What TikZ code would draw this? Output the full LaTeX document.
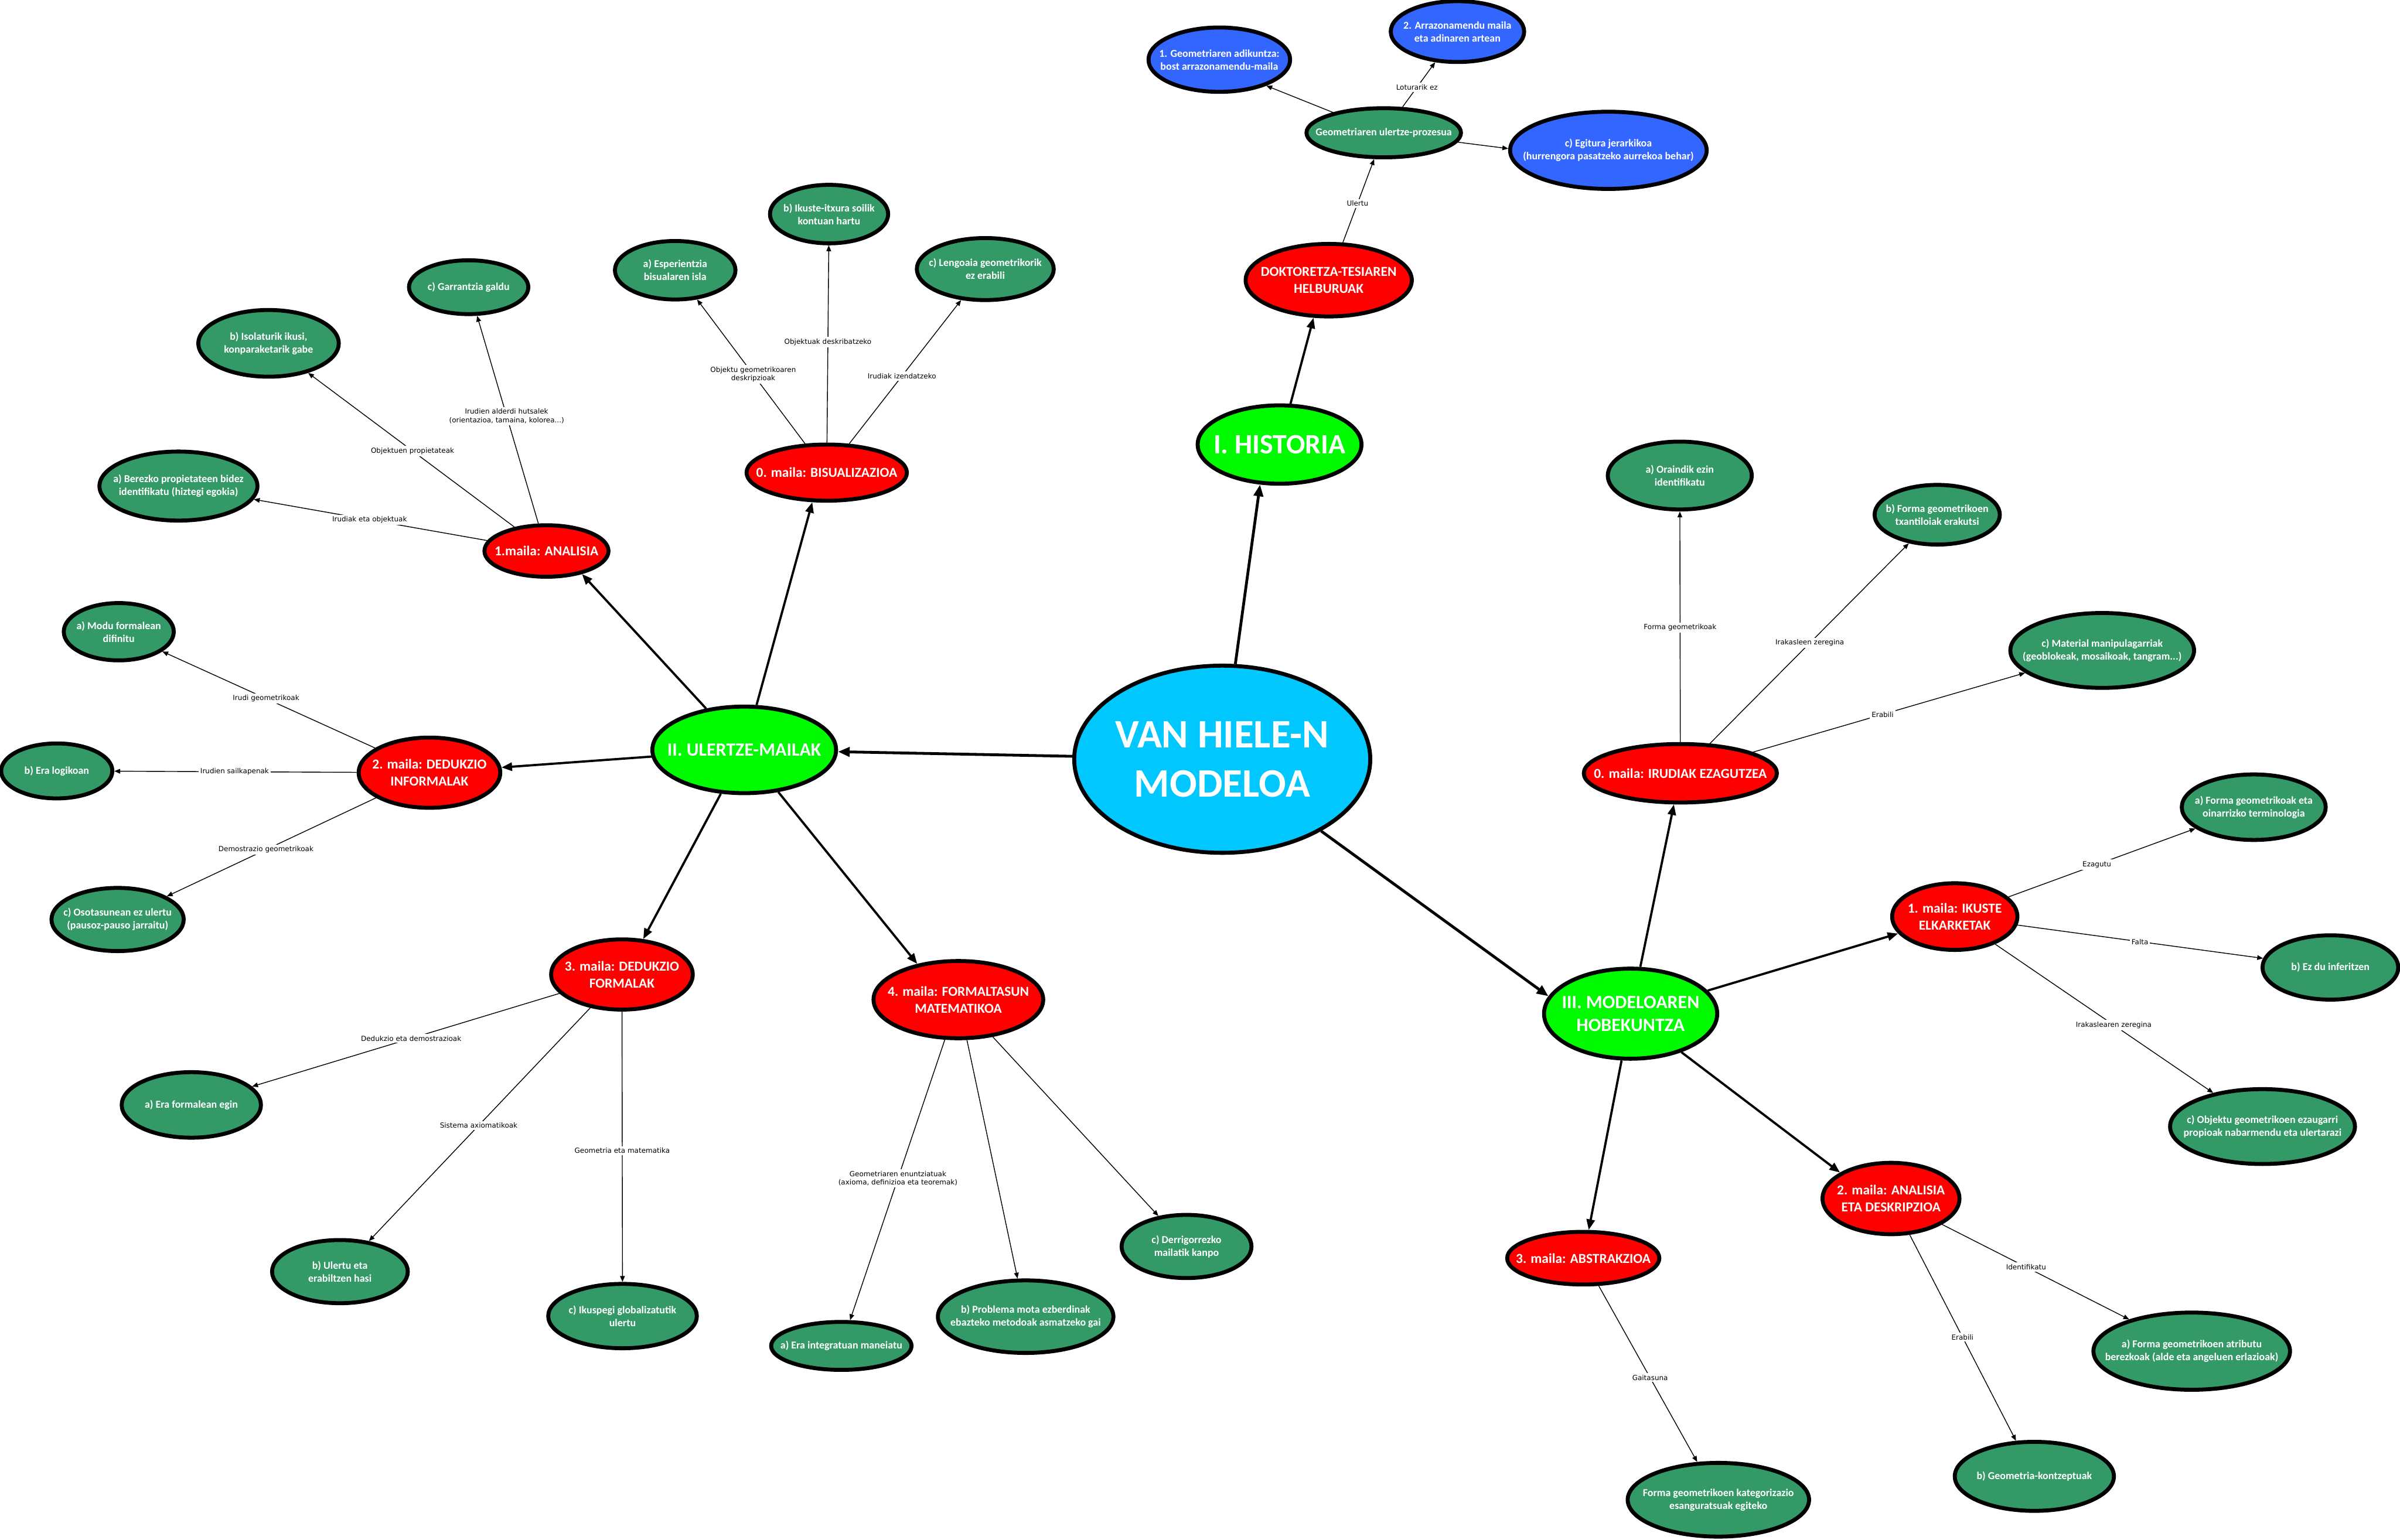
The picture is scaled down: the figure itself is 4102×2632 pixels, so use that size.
\documentclass[tikz,border=0pt]{standalone}
\usepackage{fontspec}
\setmainfont{Carlito}[BoldFont={Carlito Bold}]
\newfontfamily\lblfont{DejaVu Sans}
\usetikzlibrary{shapes.geometric,arrows.meta,calc}
\definecolor{subgreen}{RGB}{51,153,102}
\definecolor{lvlred}{RGB}{255,0,0}
\definecolor{secgreen}{RGB}{0,250,0}
\definecolor{topblue}{RGB}{51,102,255}
\definecolor{maincyan}{RGB}{0,200,255}
\newcommand\zb[1]{\makebox[0pt]{#1}}
\begin{document}
\begin{tikzpicture}[x=0.5pt,y=-0.5pt,
  base/.style={ellipse, draw=black, line width=3.4pt, inner sep=0pt, text=white, align=center},
  sub/.style={base, fill=subgreen, font=\bfseries\fontsize{9}{11}\selectfont},
  blu/.style={base, fill=topblue, font=\bfseries\fontsize{9}{11}\selectfont},
  lvl/.style={base, fill=lvlred, font=\bfseries\fontsize{11.75}{14.5}\selectfont},
  sec/.style={base, fill=secgreen, font=\bfseries\fontsize{16}{19.5}\selectfont},
  sz/.style 2 args={minimum width=#1pt, minimum height=#2pt},
  thinarr/.style={-{Triangle[length=5pt,width=4pt]}, line width=0.7pt},
  midarr/.style={-{Triangle[length=9pt,width=7pt]}, line width=1.9pt},
  bigarr/.style={-{Triangle[length=10pt,width=8pt]}, line width=2.4pt},
  lbl/.style={fill=white, inner sep=1.5pt, text=black, align=center, font=\lblfont\fontsize{6}{7.2}\selectfont}
  ]
\fill[white] (0,0) rectangle (4102,2632);
\useasboundingbox (0,0) rectangle (4102,2632);

% centre and sections
\node[base, fill=maincyan, sz={253}{160}, font=\bfseries\fontsize{34.6}{42}\selectfont] (van) at (2089,1298) {\zb{VAN HIELE-N}\\\zb{MODELOA}};
\node[sec, sz={140}{67}, font=\bfseries\fontsize{24}{29}\selectfont] (hist) at (2187,760) {\zb{I. HISTORIA}};
\node[sec, sz={157}{74}] (ul) at (1272,1282) {\zb{II. ULERTZE-MAILAK}};
\node[sec, sz={148}{77}] (mod) at (2787,1733) {\zb{III. MODELOAREN}\\\zb{HOBEKUNTZA}};

% historia branch
\node[lvl, sz={142}{62}] (dok) at (2271,479) {\zb{DOKTORETZA-TESIAREN}\\\zb{HELBURUAK}};
\node[sub, sz={132}{42}] (geo) at (2365,227) {\zb{Geometriaren ulertze-prozesua}};
\node[blu, sz={121}{55}] (b1) at (2084,102) {\zb{1. Geometriaren adikuntza:}\\\zb{bost arrazonamendu-maila}};
\node[blu, sz={114}{52}] (b2) at (2491,54) {\zb{2. Arrazonamendu maila}\\\zb{eta adinaren artean}};
\node[blu, sz={168}{66}] (b3) at (2749,257) {\zb{c) Egitura jerarkikoa}\\\zb{(hurrengora pasatzeko aurrekoa behar)}};

% ulertze-mailak branch
\node[lvl, sz={137}{48}] (bis) at (1413,808) {\zb{0. maila: BISUALIZAZIOA}};
\node[sub, sz={103}{50}] (bisa) at (1154,462) {\zb{a) Esperientzia}\\\zb{bisualaren isla}};
\node[sub, sz={101}{50}] (bisb) at (1417,366) {\zb{b) Ikuste-itxura soilik}\\\zb{kontuan hartu}};
\node[sub, sz={117}{53}] (bisc) at (1684,460) {\zb{c) Lengoaia geometrikorik}\\\zb{ez erabili}};

\node[lvl, sz={106}{44}] (ana) at (934,942) {\zb{1.maila: ANALISIA}};
\node[sub, sz={135}{59}] (anaa) at (305,831) {\zb{a) Berezko propietateen bidez}\\\zb{identifikatu (hiztegi egokia)}};
\node[sub, sz={120}{57}] (anab) at (459,587) {\zb{b) Isolaturik ikusi,}\\\zb{konparaketarik gabe}};
\node[sub, sz={102}{46}] (anac) at (801,491) {\zb{c) Garrantzia galdu}};

\node[lvl, sz={121}{60}] (di) at (734,1321) {\zb{2. maila: DEDUKZIO}\\\zb{INFORMALAK}};
\node[sub, sz={94}{49}] (dia) at (203,1080) {\zb{a) Modu formalean}\\\zb{difinitu}};
\node[sub, sz={95}{47}] (dib) at (97,1318) {\zb{b) Era logikoan}};
\node[sub, sz={113}{54}] (dic) at (201,1572) {\zb{c) Osotasunean ez ulertu}\\\zb{(pausoz-pauso jarraitu)}};

\node[lvl, sz={121}{60}] (df) at (1063,1666) {\zb{3. maila: DEDUKZIO}\\\zb{FORMALAK}};
\node[sub, sz={119}{56}] (dfa) at (327,1889) {\zb{a) Era formalean egin}};
\node[sub, sz={116}{54}] (dfb) at (581,2174) {\zb{b) Ulertu eta}\\\zb{erabiltzen hasi}};
\node[sub, sz={127}{55}] (dfc) at (1064,2250) {\zb{c) Ikuspegi globalizatutik}\\\zb{ulertu}};

\node[lvl, sz={145}{66}] (fm) at (1638,1709) {\zb{4. maila: FORMALTASUN}\\\zb{MATEMATIKOA}};
\node[sub, sz={120}{41}] (fma) at (1438,2301) {\zb{a) Era integratuan maneiatu}};
\node[sub, sz={150}{62}] (fmb) at (1753,2251) {\zb{b) Problema mota ezberdinak}\\\zb{ebazteko metodoak asmatzeko gai}};
\node[sub, sz={111}{54}] (fmc) at (2028,2131) {\zb{c) Derrigorrezko}\\\zb{mailatik kanpo}};

% modeloaren hobekuntza branch
\node[lvl, sz={165}{50}] (ir) at (2872,1322) {\zb{0. maila: IRUDIAK EZAGUTZEA}};
\node[sub, sz={123}{58}] (ira) at (2871,813) {\zb{a) Oraindik ezin}\\\zb{identifikatu}};
\node[sub, sz={107}{51}] (irb) at (3311,880) {\zb{b) Forma geometrikoen}\\\zb{txantiloiak erakutsi}};
\node[sub, sz={157}{64}] (irc) at (3593,1112) {\zb{c) Material manipulagarriak}\\\zb{(geoblokeak, mosaikoak, tangram...)}};

\node[lvl, sz={107}{57}] (ik) at (3341,1567) {\zb{1. maila: IKUSTE}\\\zb{ELKARKETAK}};
\node[sub, sz={123}{56}] (ika) at (3852,1380) {\zb{a) Forma geometrikoak eta}\\\zb{oinarrizko terminologia}};
\node[sub, sz={116}{55}] (ikb) at (3983,1654) {\zb{b) Ez du inferitzen}};
\node[sub, sz={158}{64}] (ikc) at (3867,1926) {\zb{c) Objektu geometrikoen ezaugarri}\\\zb{propioak nabarmendu eta ulertarazi}};

\node[lvl, sz={117}{61}] (an2) at (3232,2049) {\zb{2. maila: ANALISIA}\\\zb{ETA DESKRIPZIOA}};
\node[sub, sz={168}{66}] (an2a) at (3746,2310) {\zb{a) Forma geometrikoen atributu}\\\zb{berezkoak (alde eta angeluen erlazioak)}};
\node[sub, sz={136}{59}] (an2b) at (3477,2524) {\zb{b) Geometria-kontzeptuak}};

\node[lvl, sz={130}{45}] (abs) at (2706,2151) {\zb{3. maila: ABSTRAKZIOA}};
\node[sub, sz={155}{63}] (absa) at (2937,2564) {\zb{Forma geometrikoen kategorizazio}\\\zb{esanguratsuak egiteko}};

% main connectors
\draw[bigarr] (van) -- (hist.244);
\draw[bigarr] (van) -- (ul);
\draw[bigarr] (van) -- (mod.168);
\draw[midarr] (hist) -- (dok.248);
\draw[thinarr] (dok) -- (geo.250);
\draw[thinarr] (geo) -- (b1.331);
\draw[thinarr] (geo) -- (b2.234);
\draw[thinarr] (geo) -- (b3.179);

\draw[midarr] (ul) -- (ana.327);
\draw[midarr] (ul) -- (bis.244);
\draw[midarr] (ul) -- (di);
\draw[midarr] (ul) -- (df.59);
\draw[midarr] (ul) -- (fm.139);

\draw[midarr] (mod) -- (ir);
\draw[midarr] (mod) -- (ik);
\draw[midarr] (mod) -- (abs);
\draw[midarr] (mod) -- (an2.153);

% thin connectors
\foreach \a/\b in {bis/bisa,bis/bisb,bis/bisc,ana/anaa,ana/anab,ana/anac,di/dia,di/dib,di/dic,df/dfa,df/dfb,df/dfc,fm/fma,fm/fmb,fm/fmc,ir/ira,ir/irb,ir/irc,ik/ika,ik/ikb,ik/ikc,an2/an2a,an2/an2b,abs/absa}
  \draw[thinarr] (\a) -- (\b);

% connector labels
\node[lbl] (l1) at ($(geo)!(2423,150)!(b2.234)$) {Loturarik ez};
\node[lbl] (l2) at ($(dok)!(2321,348)!(geo.250)$) {Ulertu};
\node[lbl] (l3) at ($(bis)!(1286,641)!(bisa)$) {Objektu geometrikoaren\\deskripzioak};
\node[lbl] (l4) at ($(bis)!(1416,585)!(bisb)$) {Objektuak deskribatzeko};
\node[lbl] (l5) at ($(bis)!(1539,641)!(bisc)$) {Irudiak izendatzeko};
\node[lbl] (l6) at ($(ana)!(863,712)!(anac)$) {Irudien alderdi hutsalek\\(orientazioa, tamaina, kolorea...)};
\node[lbl] (l7) at ($(ana)!(705,771)!(anab)$) {Objektuen propietateak};
\node[lbl] (l8) at ($(ana)!(632,887)!(anaa)$) {Irudiak eta objektuak};
\node[lbl] (l9) at ($(di)!(453,1198)!(dia)$) {Irudi geometrikoak};
\node[lbl] (l10) at ($(di)!(401,1318)!(dib)$) {Irudien sailkapenak};
\node[lbl] (l11) at ($(di)!(451,1445)!(dic)$) {Demostrazio geometrikoak};
\node[lbl] (l12) at ($(df)!(702,1773)!(dfa)$) {Dedukzio eta demostrazioak};
\node[lbl] (l13) at ($(df)!(817,1923)!(dfb)$) {Sistema axiomatikoak};
\node[lbl] (l14) at ($(df)!(1065,1967)!(dfc)$) {Geometria eta matematika};
\node[lbl] (l15) at ($(fm)!(1529,2013)!(fma)$) {Geometriaren enuntziatuak\\(axioma, definizioa eta teoremak)};
\node[lbl] (l16) at ($(ir)!(2873,1073)!(ira)$) {Forma geometrikoak};
\node[lbl] (l17) at ($(ir)!(3094,1100)!(irb)$) {Irakasleen zeregina};
\node[lbl] (l18) at ($(ir)!(3215,1212)!(irc)$) {Erabili};
\node[lbl] (l19) at ($(ik)!(3583,1476)!(ika)$) {Ezagutu};
\node[lbl] (l20) at ($(ik)!(3658,1606)!(ikb)$) {Falta};
\node[lbl] (l21) at ($(ik)!(3613,1752)!(ikc)$) {Irakaslearen zeregina};
\node[lbl] (l22) at ($(an2)!(3460,2172)!(an2a)$) {Identifikatu};
\node[lbl] (l23) at ($(an2)!(3354,2286)!(an2b)$) {Erabili};
\node[lbl] (l24) at ($(abs)!(2819,2356)!(absa)$) {Gaitasuna};
\end{tikzpicture}
\end{document}
